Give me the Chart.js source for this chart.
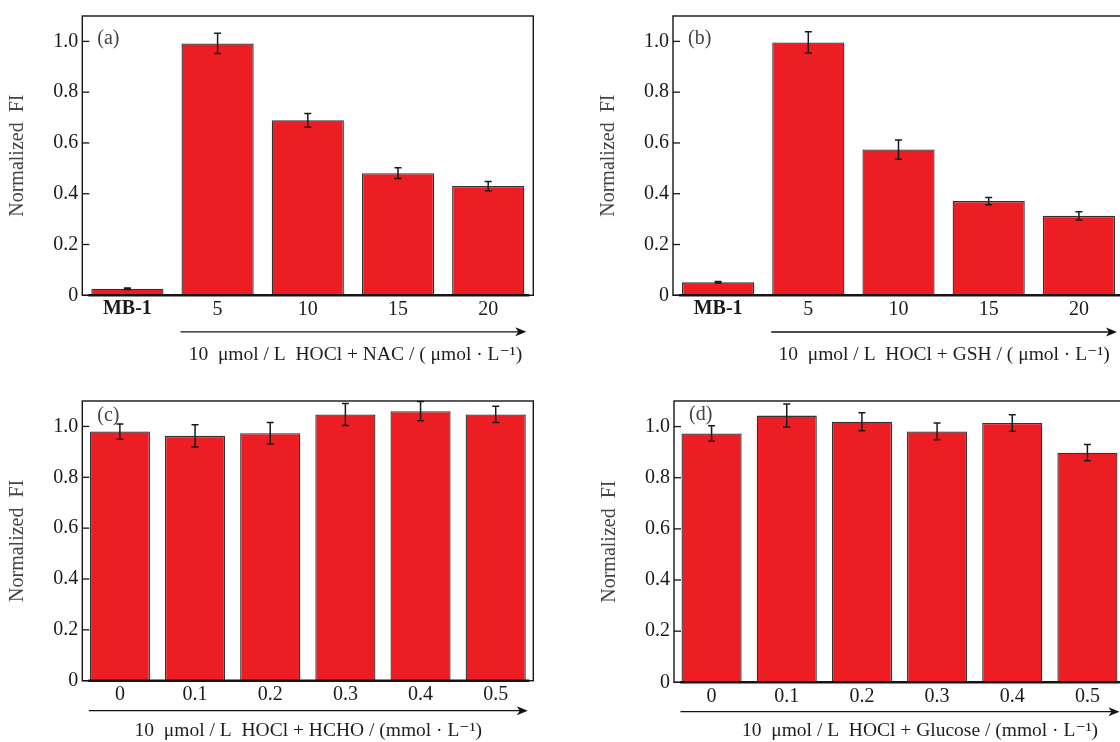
<!DOCTYPE html>
<html><head><meta charset="utf-8">
<script src="https://cdn.jsdelivr.net/npm/chart.js@4.4.1/dist/chart.umd.min.js"></script>
<style>
html,body{margin:0;padding:0;width:1120px;height:742px;overflow:hidden;background:#fff;}
.pane{position:absolute;}
</style></head><body>
<div class="pane" id="pane-a"><canvas id="chart-a"></canvas></div>
<div class="pane" id="pane-b"><canvas id="chart-b"></canvas></div>
<div class="pane" id="pane-c"><canvas id="chart-c"></canvas></div>
<div class="pane" id="pane-d"><canvas id="chart-d"></canvas></div>
<script>
// ---- data ----
const yTickValues = [0, 0.2, 0.4, 0.6, 0.8, 1.0];

const labelsA = ['MB-1', '5', '10', '15', '20'];
const valuesA = [0.026, 0.992, 0.689, 0.481, 0.430];
const errorsA = [0.003, 0.040, 0.027, 0.021, 0.018];

const labelsB = ['MB-1', '5', '10', '15', '20'];
const valuesB = [0.051, 0.996, 0.574, 0.371, 0.313];
const errorsB = [0.003, 0.042, 0.038, 0.014, 0.016];

const labelsC = ['0', '0.1', '0.2', '0.3', '0.4', '0.5'];
const valuesC = [0.980, 0.963, 0.973, 1.047, 1.060, 1.047];
const errorsC = [0.030, 0.044, 0.042, 0.043, 0.038, 0.032];

const labelsD = ['0', '0.1', '0.2', '0.3', '0.4', '0.5'];
const valuesD = [0.973, 1.043, 1.019, 0.981, 1.014, 0.898];
const errorsD = [0.030, 0.045, 0.035, 0.033, 0.032, 0.032];

const yTitle = 'Normalized  FI';
const titleA = '10  \u03bcmol / L  HOCl + NAC / ( \u03bcmol \u00b7 L\u207b\u00b9)';
const titleB = '10  \u03bcmol / L  HOCl + GSH / ( \u03bcmol \u00b7 L\u207b\u00b9)';
const titleC = '10  \u03bcmol / L  HOCl + HCHO / (mmol \u00b7 L\u207b\u00b9)';
const titleD = '10  \u03bcmol / L  HOCl + Glucose / (mmol \u00b7 L\u207b\u00b9)';

// ---- layout / style ----
const SERIF = '"Liberation Serif", "DejaVu Serif", serif';
const panels = [
  {id:'a', tag:'(a)', labels:labelsA, values:valuesA, errors:errorsA, title:titleA, boldFirst:true, arrowFrom:1,
   box:{left:0, top:0, width:560, height:380}, plot:{left:82.3, top:14.3, right:533.3, bottom:295.3},
   tagDy:22.4, arrowDy:36.5, titleDy:60, titleShift:2},
  {id:'b', tag:'(b)', labels:labelsB, values:valuesB, errors:errorsB, title:titleB, boldFirst:true, arrowFrom:1,
   box:{left:590.8, top:0, width:545, height:380}, plot:{left:672.8, top:14.3, right:1123.8, bottom:295.3},
   tagDy:22.4, arrowDy:36.7, titleDy:60, titleShift:0},
  {id:'c', tag:'(c)', labels:labelsC, values:valuesC, errors:errorsC, title:titleC, boldFirst:false, arrowFrom:0,
   box:{left:0, top:385, width:560, height:357}, plot:{left:82.3, top:399.3, right:533.3, bottom:680.7},
   tagDy:14.7, arrowDy:30, titleDy:50.3, titleShift:0},
  {id:'d', tag:'(d)', labels:labelsD, values:valuesD, errors:errorsD, title:titleD, boldFirst:false, arrowFrom:0,
   box:{left:592.3, top:385, width:545, height:357}, plot:{left:674.3, top:400.3, right:1125.3, bottom:682.3},
   tagDy:13.7, arrowDy:29.4, titleDy:48.7, titleShift:20}
];

function makeDecor(p) {
  return {
    id: 'decor' + p.id,
    afterDatasetsDraw(chart) {
      const ctx = chart.ctx, ys = chart.scales.y;
      const meta = chart.getDatasetMeta(0);
      ctx.save();
      ctx.strokeStyle = '#1a1a1a';
      ctx.lineWidth = 1.5;
      meta.data.forEach((el, i) => {
        const v = p.values[i], e = p.errors[i];
        const yt = ys.getPixelForValue(v + e), yb = ys.getPixelForValue(v - e);
        ctx.beginPath();
        ctx.moveTo(el.x, yt); ctx.lineTo(el.x, yb);
        ctx.moveTo(el.x - 3.5, yt); ctx.lineTo(el.x + 3.5, yt);
        ctx.moveTo(el.x - 3.5, yb); ctx.lineTo(el.x + 3.5, yb);
        ctx.stroke();
      });
      ctx.restore();
    },
    afterDraw(chart) {
      const ctx = chart.ctx, ca = chart.chartArea, ys = chart.scales.y;
      ctx.save();
      // frame
      ctx.strokeStyle = '#151515';
      ctx.lineWidth = 1.4;
      ctx.strokeRect(ca.left, ca.top, ca.right - ca.left, ca.bottom - ca.top);
      ctx.lineWidth = 2.4;
      ctx.beginPath();
      ctx.moveTo(ca.left + 6, ca.bottom); ctx.lineTo(ca.right - 4, ca.bottom);
      ctx.stroke();
      // inward ticks
      ctx.lineWidth = 1.3;
      yTickValues.forEach(v => {
        const y = ys.getPixelForValue(v);
        ctx.beginPath(); ctx.moveTo(ca.left, y); ctx.lineTo(ca.left + 7, y); ctx.stroke();
      });
      // panel tag
      ctx.fillStyle = '#444';
      ctx.font = '20px ' + SERIF;
      ctx.textBaseline = 'middle';
      ctx.textAlign = 'left';
      ctx.fillText(p.tag, ca.left + 15, ca.top + p.tagDy);
      // arrow
      const meta = chart.getDatasetMeta(0);
      const first = meta.data[p.arrowFrom], last = meta.data[meta.data.length - 1];
      const x0 = first.x - first.width / 2 - 1, x1 = last.x + last.width / 2 + 2;
      const ay = ca.bottom + p.arrowDy;
      ctx.strokeStyle = '#111'; ctx.fillStyle = '#111';
      ctx.lineWidth = 1.3;
      ctx.beginPath(); ctx.moveTo(x0, ay); ctx.lineTo(x1 - 6, ay); ctx.stroke();
      ctx.beginPath(); ctx.moveTo(x1, ay); ctx.lineTo(x1 - 11, ay - 4.5); ctx.lineTo(x1 - 8, ay); ctx.lineTo(x1 - 11, ay + 4.5); ctx.closePath(); ctx.fill();
      // axis title
      ctx.fillStyle = '#1e1e1e';
      ctx.font = '19.5px ' + SERIF;
      ctx.textAlign = 'center';
      ctx.fillText(p.title, (x0 + x1) / 2 + p.titleShift, ca.bottom + p.titleDy);
      ctx.restore();
    }
  };
}

panels.forEach(p => {
  const pane = document.getElementById('pane-' + p.id);
  pane.style.left = p.box.left + 'px';
  pane.style.top = p.box.top + 'px';
  pane.style.width = p.box.width + 'px';
  pane.style.height = p.box.height + 'px';
  new Chart(document.getElementById('chart-' + p.id), {
    type: 'bar',
    data: {
      labels: p.labels,
      datasets: [{
        data: p.values,
        backgroundColor: '#ED1D24',
        borderColor: '#333',
        borderWidth: 1.3,
        barPercentage: 0.8,
        categoryPercentage: 1.0
      }]
    },
    options: {
      responsive: true,
      maintainAspectRatio: false,
      animation: false,
      layout: { padding: { top: p.plot.top - p.box.top, right: p.box.left + p.box.width - p.plot.right, bottom: 0, left: 0 } },
      plugins: { legend: { display: false }, tooltip: { enabled: false } },
      scales: {
        x: {
          grid: { display: false, drawTicks: false },
          border: { display: false },
          ticks: {
            color: '#1a1a1a', padding: 2, maxRotation: 0, autoSkip: false,
            font: (c) => ({ family: SERIF, size: 20, weight: (p.boldFirst && c.index === 0) ? 'bold' : 'normal' })
          },
          afterFit: (s) => { s.height = p.box.top + p.box.height - p.plot.bottom; }
        },
        y: {
          min: 0, max: 1.1,
          grid: { display: false, drawTicks: false },
          border: { display: false },
          afterBuildTicks: (s) => { s.ticks = yTickValues.map(v => ({ value: v })); },
          ticks: {
            color: '#1a1a1a', padding: 4, font: { family: SERIF, size: 20 },
            callback: (v) => v === 0 ? '0' : Number(v).toFixed(1)
          },
          title: { display: true, text: yTitle, color: '#444', font: { family: SERIF, size: 20 }, padding: { top: 6, bottom: 0 } },
          afterFit: (s) => { s.width = p.plot.left - p.box.left; }
        }
      }
    },
    plugins: [makeDecor(p)]
  });
});
</script>
</body></html>
